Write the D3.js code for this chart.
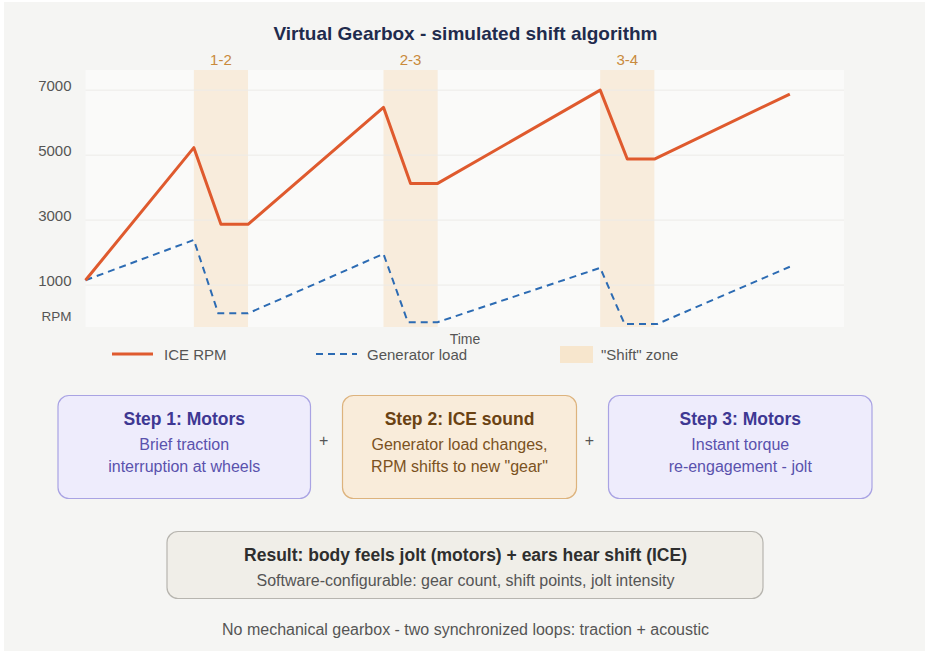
<!DOCTYPE html>
<html>
<head>
<meta charset="utf-8">
<script src="https://cdn.jsdelivr.net/npm/d3@7.9.0/dist/d3.min.js"></script>
<style>
  html, body { margin: 0; padding: 0; background: #fff; }
  svg text { font-family: "Liberation Sans", Arial, sans-serif; }
</style>
</head>
<body>
<svg id="chart" width="925" height="653"></svg>
<script>
// ---- data ----
const timeIce = [0, 2, 2.5, 3, 5.5, 6, 6.5, 9.5, 10, 10.5, 13];
const iceRpm = [1150, 5230, 2870, 2870, 6470, 4130, 4130, 7000, 4880, 4880, 6880];

const timeGen = [0, 2, 2.45, 3, 5.5, 5.95, 6.5, 9.5, 9.95, 10.55, 13];
const genLoad = [1150, 2390, 130, 130, 1960, -140, -140, 1530, -200, -200, 1565];

const shiftLabels = ['1-2', '2-3', '3-4'];
const shiftStart = [2, 5.5, 9.5];
const shiftEnd = [3, 6.5, 10.5];

const yTicks = [1000, 3000, 5000, 7000];

const legendLabels = ['ICE RPM', 'Generator load', '"Shift" zone'];

const steps = [
  { title: 'Step 1: Motors', lines: ['Brief traction', 'interruption at wheels'], kind: 'motor' },
  { title: 'Step 2: ICE sound', lines: ['Generator load changes,', 'RPM shifts to new "gear"'], kind: 'ice' },
  { title: 'Step 3: Motors', lines: ['Instant torque', 're-engagement - jolt'], kind: 'motor' }
];

const iceColor = '#df5a2e';
const genColor = '#2c6bb3';
const zoneColor = '#f8ecdc';

const svg = d3.select('#chart');

// background panel
svg.append('rect')
  .attr('x', 4).attr('y', 2).attr('width', 921).attr('height', 649)
  .attr('fill', '#f5f5f3');

svg.append('text')
  .attr('x', 465.5).attr('y', 40)
  .attr('text-anchor', 'middle')
  .attr('font-size', 19).attr('font-weight', 'bold')
  .attr('fill', '#1f2b4d')
  .text('Virtual Gearbox - simulated shift algorithm');

// scales
const x = d3.scaleLinear().domain([0, 14]).range([85.5, 844]);
const y = d3.scaleLinear().domain([-290, 7620]).range([327, 70]);

const plot = svg.append('g');

plot.append('rect')
  .attr('x', x(0)).attr('y', y(7620))
  .attr('width', x(14) - x(0)).attr('height', y(-290) - y(7620))
  .attr('fill', '#fafaf9');

// shift zones
shiftLabels.forEach((lab, i) => {
  plot.append('rect')
    .attr('x', x(shiftStart[i]))
    .attr('y', y(7620))
    .attr('width', x(shiftEnd[i]) - x(shiftStart[i]))
    .attr('height', y(-290) - y(7620))
    .attr('fill', zoneColor);
  plot.append('text')
    .attr('x', (x(shiftStart[i]) + x(shiftEnd[i])) / 2)
    .attr('y', 64.5)
    .attr('text-anchor', 'middle')
    .attr('font-size', 15)
    .attr('fill', '#c98a3c')
    .text(lab);
});

// gridlines
plot.selectAll('line.grid')
  .data(yTicks)
  .join('line')
  .attr('class', 'grid')
  .attr('x1', x(0)).attr('x2', x(14))
  .attr('y1', d => y(d)).attr('y2', d => y(d))
  .attr('stroke', '#ecebe8').attr('stroke-width', 1);

// y axis labels
const yAxis = d3.axisLeft(y).tickValues(yTicks).tickSize(0).tickPadding(14).tickFormat(d3.format('d'));
const gy = plot.append('g').attr('transform', `translate(${x(0)},0)`).call(yAxis);
gy.select('.domain').remove();
gy.selectAll('text')
  .attr('dy', '0.05em')
  .attr('font-size', 15)
  .attr('font-family', '"Liberation Sans", Arial, sans-serif')
  .attr('fill', '#555');

svg.append('text')
  .attr('x', 71.5).attr('y', 321)
  .attr('text-anchor', 'end')
  .attr('font-size', 13.5).attr('fill', '#555')
  .text('RPM');

svg.append('text')
  .attr('x', 465).attr('y', 344)
  .attr('text-anchor', 'middle')
  .attr('font-size', 14).attr('fill', '#555')
  .text('Time');

// lines
const iceLine = d3.line().x((d, i) => x(timeIce[i])).y(d => y(d));
const genLine = d3.line().x((d, i) => x(timeGen[i])).y(d => y(d));

plot.append('path')
  .attr('d', genLine(genLoad))
  .attr('fill', 'none')
  .attr('stroke', genColor).attr('stroke-width', 2)
  .attr('stroke-dasharray', '7,5');

plot.append('path')
  .attr('d', iceLine(iceRpm))
  .attr('fill', 'none')
  .attr('stroke', iceColor).attr('stroke-width', 3)
  .attr('stroke-linejoin', 'round');

// legend
const leg = svg.append('g');
leg.append('line')
  .attr('x1', 112).attr('x2', 153).attr('y1', 354).attr('y2', 354)
  .attr('stroke', iceColor).attr('stroke-width', 3);
leg.append('line')
  .attr('x1', 316).attr('x2', 357).attr('y1', 354).attr('y2', 354)
  .attr('stroke', genColor).attr('stroke-width', 2).attr('stroke-dasharray', '7,5');
leg.append('rect')
  .attr('x', 560).attr('y', 346).attr('width', 33).attr('height', 17)
  .attr('fill', '#f7e6cd');
[164, 367, 601].forEach((lx, i) => {
  leg.append('text')
    .attr('x', lx).attr('y', 360)
    .attr('font-size', 15).attr('fill', '#555')
    .text(legendLabels[i]);
});

// step boxes
const boxX = [58, 342.5, 608.5];
const boxW = [252.5, 234, 263.5];
const boxStyle = {
  motor: { fill: '#eeecfc', stroke: '#a9a3e3', title: '#3e3893', text: '#5a52ad' },
  ice: { fill: '#f9ecda', stroke: '#ddb37d', title: '#6a4213', text: '#7b5222' }
};

steps.forEach((s, i) => {
  const st = boxStyle[s.kind];
  const g = svg.append('g');
  g.append('rect')
    .attr('x', boxX[i]).attr('y', 395.5)
    .attr('width', boxW[i]).attr('height', 103)
    .attr('rx', 11)
    .attr('fill', st.fill).attr('stroke', st.stroke).attr('stroke-width', 1.2);
  const cx = boxX[i] + boxW[i] / 2;
  g.append('text')
    .attr('x', cx).attr('y', 425)
    .attr('text-anchor', 'middle')
    .attr('font-size', 17.5).attr('font-weight', 'bold')
    .attr('fill', st.title)
    .text(s.title);
  s.lines.forEach((t, j) => {
    g.append('text')
      .attr('x', cx).attr('y', 449.5 + j * 22)
      .attr('text-anchor', 'middle')
      .attr('font-size', 16)
      .attr('fill', st.text)
      .text(t);
  });
});

[323.7, 589.3].forEach(px => {
  svg.append('text')
    .attr('x', px).attr('y', 446)
    .attr('text-anchor', 'middle')
    .attr('font-size', 16).attr('fill', '#555')
    .text('+');
});

// result box
svg.append('rect')
  .attr('x', 167).attr('y', 531.5).attr('width', 596).attr('height', 67)
  .attr('rx', 11)
  .attr('fill', '#f0eee8').attr('stroke', '#b7b5af').attr('stroke-width', 1.2);
svg.append('text')
  .attr('x', 465.5).attr('y', 561)
  .attr('text-anchor', 'middle')
  .attr('font-size', 17.5).attr('font-weight', 'bold').attr('fill', '#2e2e2e')
  .text('Result: body feels jolt (motors) + ears hear shift (ICE)');
svg.append('text')
  .attr('x', 465.5).attr('y', 585.5)
  .attr('text-anchor', 'middle')
  .attr('font-size', 16).attr('fill', '#555')
  .text('Software-configurable: gear count, shift points, jolt intensity');

svg.append('text')
  .attr('x', 465.5).attr('y', 634.5)
  .attr('text-anchor', 'middle')
  .attr('font-size', 16).attr('fill', '#555')
  .text('No mechanical gearbox - two synchronized loops: traction + acoustic');
</script>
</body>
</html>
